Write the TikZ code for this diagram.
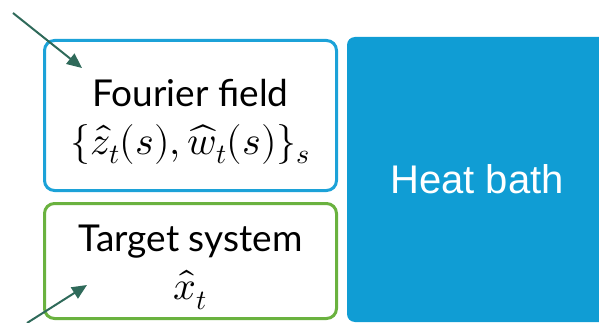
\documentclass[tikz,border=0pt]{standalone}
\usepackage{fontspec}
\usepackage{unicode-math}
\setmainfont{Lato}
\setmathfont{Latin Modern Math}
\newfontfamily\bathfont{Liberation Sans}
\usetikzlibrary{arrows.meta}
\definecolor{fieldblue}{HTML}{1CA2D8}
\definecolor{targetgreen}{HTML}{6AB23F}
\definecolor{bathblue}{HTML}{109DD4}
\definecolor{arrowgreen}{HTML}{2F6A5A}
\newcommand{\mathline}[1]{{\fontsize{40}{48}\selectfont$#1$}}
\tikzset{
  subbox/.style={line width=3pt, rounded corners=10pt, inner sep=0pt},
  subtext/.style={align=center, inner sep=0pt, font=\fontsize{37}{48}\selectfont},
  pointer/.style={-{Triangle[length=15pt,width=13pt]}, arrowgreen, line width=2pt}
}
\begin{document}
\begin{tikzpicture}[x=1pt,y=-1pt]
\useasboundingbox (0,0) rectangle (599,323);
% the two sub-systems
\node[subbox, draw=fieldblue, minimum width=292pt, minimum height=150pt] (fourier) at (190.5,115.5) {};
\node[subtext] (fourierlabel) at ([yshift=-6pt]fourier.center)
  {Fourier field\\\mathline{\{\hat{z}_t(s),\widehat{w}_t(s)\}_s}};
\node[subbox, draw=targetgreen, minimum width=292pt, minimum height=115pt] (target) at (190.5,261) {};
\node[subtext] (targetlabel) at ([yshift=-6pt]target.center)
  {Target system\\\mathline{\widehat{x}_t}};
% the bath, running off the right edge
\node[fill=bathblue, rounded corners=8pt, minimum width=260pt, minimum height=285pt,
  text=white, font=\bathfont\fontsize{40}{48}\selectfont] (bath) at (477,179.5) {Heat bath};
% arrows coming in from outside
\coordinate (topin) at (13,13);
\coordinate (toptip) at (82,68);
\coordinate (botin) at (27,323);
\coordinate (bottip) at (87,285);
\draw[pointer] (topin) -- (toptip);
\draw[pointer] (botin) -- (bottip);
\end{tikzpicture}
\end{document}
